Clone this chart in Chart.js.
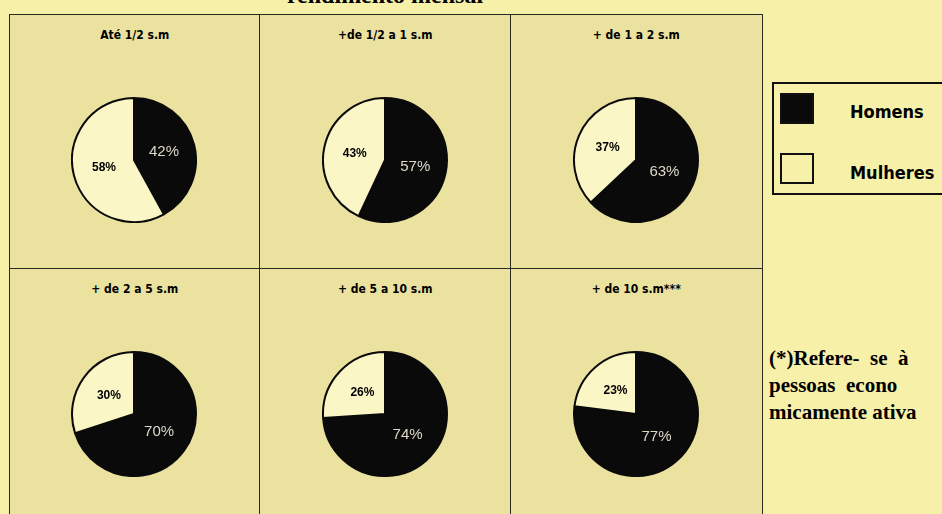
<!DOCTYPE html>
<html>
<head>
<meta charset="utf-8">
<script src="https://cdn.jsdelivr.net/npm/chart.js@4.4.1/dist/chart.umd.min.js"></script>
<style>
  body {
    margin: 0;
    width: 942px;
    height: 514px;
    overflow: hidden;
    position: relative;
    background: #f7f0a8;
    font-family: "Liberation Sans Narrow", "DejaVu Sans Condensed", "Liberation Sans", sans-serif;
  }
  #titulo {
    position: absolute;
    left: 9px; width: 752px;
    top: -18px;
    text-align: center;
    font: bold 24px "Liberation Serif", serif;
    white-space: nowrap;
  }
  .cell {
    position: absolute;
    background: #ebe2a0;
    border: 1.5px solid #2a2a22;
    box-sizing: border-box;
  }
  .cell .nome {
    position: absolute;
    left: 0; right: 0; top: 13px;
    text-align: center;
    font-weight: bold;
    font-size: 12px;
    white-space: nowrap;
  }
  .pie { position: absolute; width: 126px; height: 126px; }
  #legenda {
    position: absolute;
    left: 772px; top: 82px;
    width: 180px; height: 113px;
    border: 2px solid #111;
    box-sizing: border-box;
  }
  .sw {
    position: absolute; left: 6px;
    width: 34px; height: 31px;
    box-sizing: border-box;
    border: 2px solid #111;
  }
  .lt {
    position: absolute; left: 76px;
    font-weight: bold; font-size: 18px;
    line-height: 20px;
  }
  #nota {
    position: absolute;
    left: 769px; top: 345px;
    font: bold 21px/27px "Liberation Serif", serif;
    white-space: nowrap;
  }
</style>
</head>
<body>
<div id="titulo">rendimento mensal</div>
<div id="legenda">
  <div class="sw" style="top:9px;background:#0a0a0a"></div>
  <div class="lt" style="top:18px">Homens</div>
  <div class="sw" style="top:69px"></div>
  <div class="lt" style="top:79px">Mulheres</div>
</div>
<div id="nota">(*)Refere-&nbsp; se&nbsp; à<br>pessoas&nbsp; econo<br>micamente ativa</div>

<script>
// faixas de rendimento (salários mínimos)
const faixas = ['Até 1/2 s.m', '+de 1/2 a 1 s.m', '+ de 1 a 2 s.m', '+ de 2 a 5 s.m', '+ de 5 a 10 s.m', '+ de 10 s.m***'];
const sexos = ['Homens', 'Mulheres'];
const homens = [42, 57, 63, 70, 74, 77];
const mulheres = [58, 43, 37, 30, 26, 23];

const colX = [9, 259, 510, 761];
const rowY = [14, 268, 522];

// percent labels inside the slices
const rotulos = {
  id: 'rotulos',
  afterDatasetsDraw(chart) {
    const ctx = chart.ctx;
    const meta = chart.getDatasetMeta(0);
    const ds = chart.data.datasets[0];
    ctx.save();
    ctx.textAlign = 'center';
    ctx.textBaseline = 'middle';
    meta.data.forEach((arc, i) => {
      const p = arc.tooltipPosition();
      if (i === 0) {
        ctx.fillStyle = '#dcd9c8';
        ctx.font = '15px "Liberation Sans", sans-serif';
      } else {
        ctx.fillStyle = '#000';
        ctx.font = 'bold 12px "Liberation Sans Narrow", "Liberation Sans", sans-serif';
      }
      ctx.fillText(ds.data[i] + '%', p.x, p.y);
    });
    ctx.restore();
  }
};

faixas.forEach((faixa, i) => {
  const c = i % 3, r = Math.floor(i / 3);
  const cell = document.createElement('div');
  cell.className = 'cell';
  cell.style.left = colX[c] + 'px';
  cell.style.top = rowY[r] + 'px';
  cell.style.width = (colX[c + 1] - colX[c] + 1.5) + 'px';
  cell.style.height = (rowY[r + 1] - rowY[r] + 1.5) + 'px';
  const nome = document.createElement('div');
  nome.className = 'nome';
  nome.textContent = faixa;
  cell.appendChild(nome);
  document.body.appendChild(cell);

  const cx = (colX[c] + colX[c + 1]) / 2;
  const cy = rowY[r] + 146;
  const canvas = document.createElement('canvas');
  canvas.className = 'pie';
  canvas.width = 126;
  canvas.height = 126;
  canvas.style.left = (cx - 63) + 'px';
  canvas.style.top = (cy - 63) + 'px';
  document.body.appendChild(canvas);

  new Chart(canvas, {
    type: 'pie',
    data: {
      labels: sexos,
      datasets: [{
        data: [homens[i], mulheres[i]],
        backgroundColor: ['#0a0a0a', '#faf6c6'],
        borderColor: '#0a0a0a',
        borderWidth: 2,
        hoverOffset: 0
      }]
    },
    options: {
      responsive: false,
      animation: false,
      events: [],
      layout: { padding: 0 },
      plugins: {
        legend: { display: false },
        tooltip: { enabled: false }
      }
    },
    plugins: [rotulos]
  });
});
</script>
</body>
</html>
